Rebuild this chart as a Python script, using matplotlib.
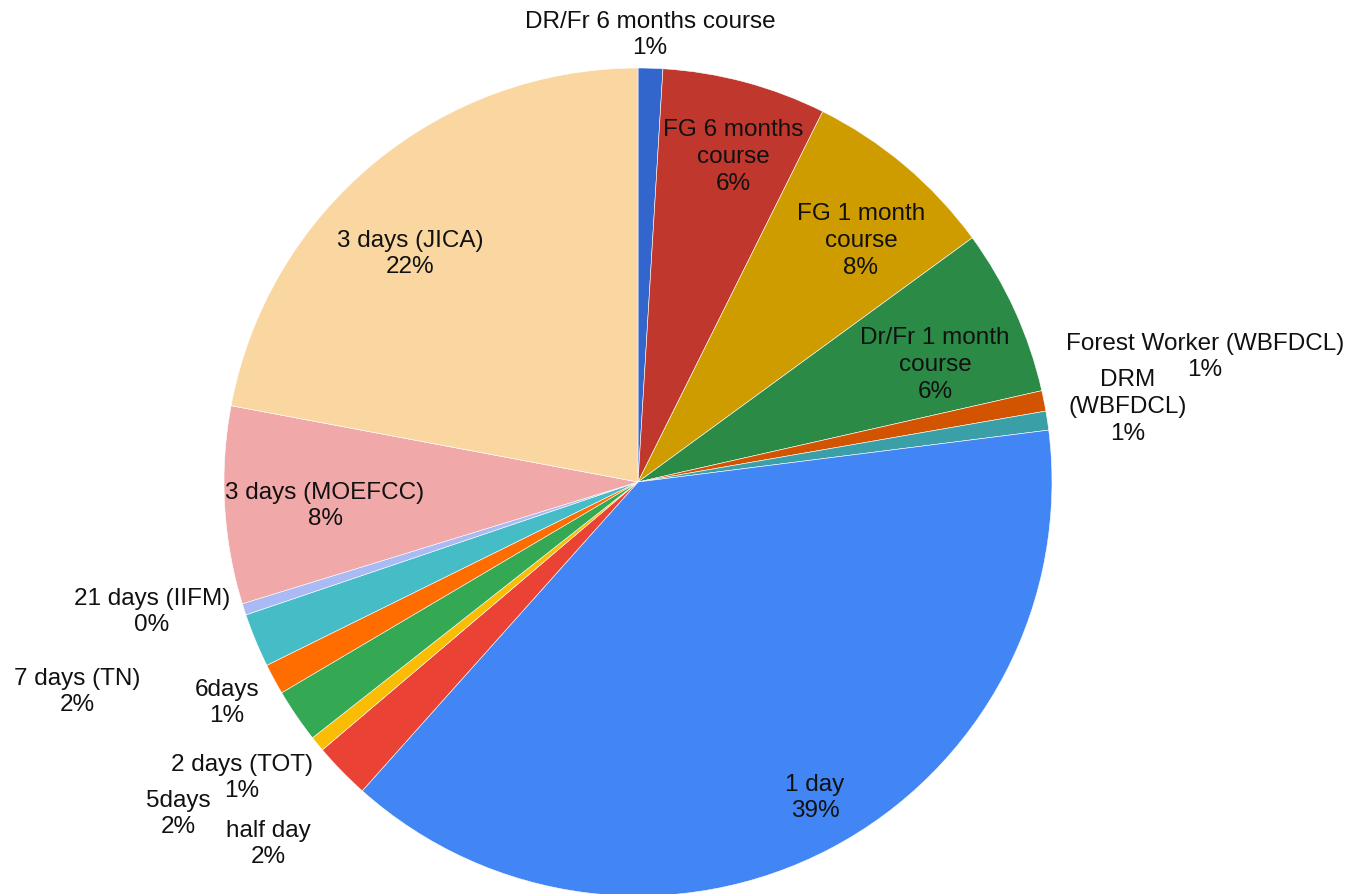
import matplotlib.pyplot as plt

# slices, clockwise from the top
labels = ['DR/Fr 6 months course', 'FG 6 months\ncourse', 'FG 1 month\ncourse',
          'Dr/Fr 1 month\ncourse', 'Forest Worker (WBFDCL)', 'DRM\n(WBFDCL)',
          '1 day', 'half day', '2 days (TOT)', '5days', '6days', '7 days (TN)',
          '21 days (IIFM)', '3 days (MOEFCC)', '3 days (JICA)']
shares = [0.96, 6.4, 7.6, 6.5, 0.8, 0.74, 38.6, 2.2, 0.6, 2.1, 1.2, 2.1, 0.45, 7.7, 22.05]
colors = ['#3366CC', '#C0372E', '#CF9C00', '#2B8A46', '#D35400', '#3A9FA6',
          '#4285F4', '#EA4335', '#FBBC04', '#34A853', '#FF6D01', '#46BDC6',
          '#AABAF5', '#F0A8A8', '#FAD7A1']

# label block centres in pixels (x, y from top)
label_pos = [(650, 35), (733, 157), (861, 241), (935, 365), (1205, 357), (1128, 407),
             (815, 798), (268, 844), (242, 778), (178, 814), (227, 703), (77, 692),
             (152, 612), (325, 506), (410, 254)]

W, H = 1353, 895
fig = plt.figure(figsize=(W / 100, H / 100), dpi=100)
ax = fig.add_axes([0, 0, 1, 1])

ax.pie(shares, colors=colors, startangle=90, counterclock=False,
       center=(638, H - 483), radius=414,
       wedgeprops=dict(edgecolor='white', linewidth=0.4))

# pie() resets the limits, so set them afterwards
ax.set_xlim(0, W)
ax.set_ylim(0, H)
ax.set_aspect('equal')
ax.axis('off')

total = sum(shares)
for lab, v, (x, y) in zip(labels, shares, label_pos):
    ax.text(x, H - y, f'{lab}\n{round(v / total * 100)}%', ha='center', va='center',
            fontsize=17.5, family=['Liberation Sans', 'DejaVu Sans'], linespacing=1.27,
            color='#111111')

fig.savefig('out.png', dpi=100)
